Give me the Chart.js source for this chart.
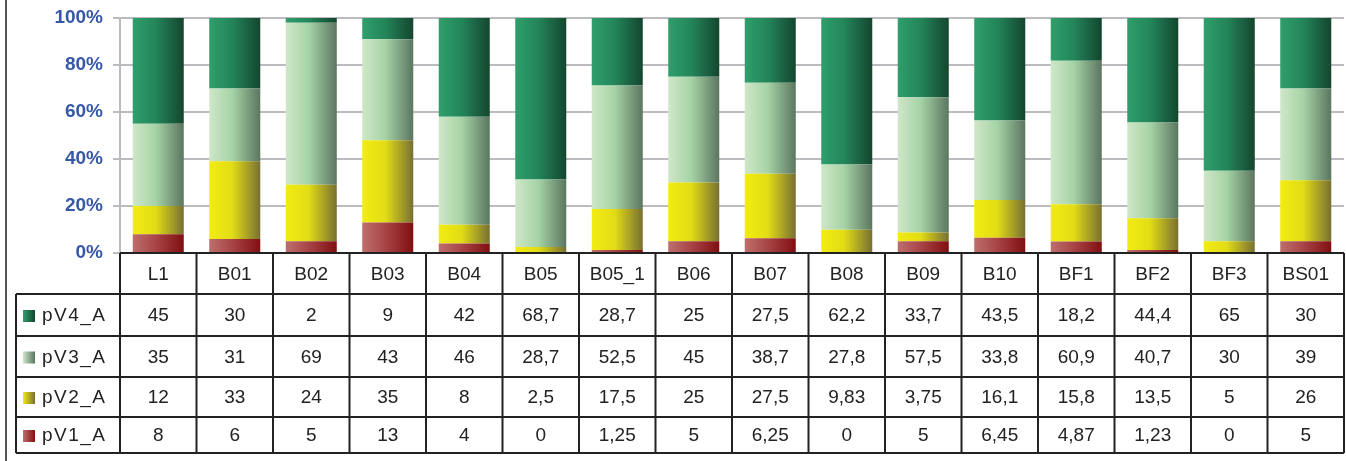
<!DOCTYPE html>
<html>
<head>
<meta charset="utf-8">
<script src="https://cdn.jsdelivr.net/npm/chart.js@4"></script>
<style>
	body { margin: 0; background: #fff; }
	#wrap { width: 1346px; height: 461px; position: relative; }
</style>
</head>
<body>
<div id="wrap"><canvas id="chart"></canvas></div>
<script>
const categories = ["L1", "B01", "B02", "B03", "B04", "B05", "B05_1", "B06", "B07", "B08", "B09", "B10", "BF1", "BF2", "BF3", "BS01"];
const pV1_A = [8, 6, 5, 13, 4, 0, 1.25, 5, 6.25, 0, 5, 6.45, 4.87, 1.23, 0, 5];
const pV2_A = [12, 33, 24, 35, 8, 2.5, 17.5, 25, 27.5, 9.83, 3.75, 16.1, 15.8, 13.5, 5, 26];
const pV3_A = [35, 31, 69, 43, 46, 28.7, 52.5, 45, 38.7, 27.8, 57.5, 33.8, 60.9, 40.7, 30, 39];
const pV4_A = [45, 30, 2, 9, 42, 68.7, 28.7, 25, 27.5, 62.2, 33.7, 43.5, 18.2, 44.4, 65, 30];
const yTicks = [0, 20, 40, 60, 80, 100];

// gradient stops left -> right for each series
const shades = {
	pV1_A: ["#bd6f6d", "#a84446", "#800f10"],
	pV2_A: ["#f2ec12", "#e2dc16", "#787032"],
	pV3_A: ["#cfe7c8", "#a6d3a6", "#5b7660"],
	pV4_A: ["#2f9f6b", "#23855a", "#14462e"],
};

const totals = categories.map((c, i) => pV1_A[i] + pV2_A[i] + pV3_A[i] + pV4_A[i]);
const pct = arr => arr.map((v, i) => v / totals[i] * 100);
const fmt = v => String(v).replace(".", ",");

const BAR_PCT = 0.667;
const FONT = "'Liberation Sans', Arial, sans-serif";

function barGradient(name) {
	return function (c) {
		const chart = c.chart;
		if (!chart.chartArea || c.dataIndex === undefined) return shades[name][1];
		const xs = chart.scales.x;
		const step = xs.width / categories.length;
		const cx = xs.getPixelForValue(c.dataIndex);
		const w = step * BAR_PCT;
		const g = chart.ctx.createLinearGradient(cx - w / 2, 0, cx + w / 2, 0);
		g.addColorStop(0, shades[name][0]);
		g.addColorStop(0.45, shades[name][1]);
		g.addColorStop(1, shades[name][2]);
		return g;
	};
}

const series = [
	{ name: "pV1_A", values: pV1_A },
	{ name: "pV2_A", values: pV2_A },
	{ name: "pV3_A", values: pV3_A },
	{ name: "pV4_A", values: pV4_A },
];

// data table under the plot, columns follow the x scale
const tablePlugin = {
	id: "dataTable",
	afterDraw(chart) {
		const ctx = chart.ctx;
		const xs = chart.scales.x;
		const area = chart.chartArea;
		const step = xs.width / categories.length;
		const left = area.left, right = area.right;
		const top = area.bottom;
		const rows = series.slice().reverse();
		// horizontal rules: header bottom, then each row
		const lines = [top + 41, top + 83, top + 124, top + 164, top + 200];
		const bottom = lines[lines.length - 1];
		const legendLeft = 16;

		ctx.save();
		// outer frame line on the left
		ctx.strokeStyle = "#555";
		ctx.lineWidth = 2;
		ctx.beginPath();
		ctx.moveTo(6, 0);
		ctx.lineTo(6, 461);
		ctx.stroke();

		ctx.strokeStyle = "#222";
		ctx.lineWidth = 2;
		ctx.beginPath();
		ctx.moveTo(left, top);
		ctx.lineTo(right, top);
		lines.forEach(y => {
			ctx.moveTo(legendLeft, y);
			ctx.lineTo(right, y);
		});
		for (let i = 0; i <= categories.length; i++) {
			const x = left + i * step;
			ctx.moveTo(x, top);
			ctx.lineTo(x, bottom);
		}
		ctx.moveTo(legendLeft, lines[0]);
		ctx.lineTo(legendLeft, bottom);
		ctx.stroke();

		ctx.fillStyle = "#222";
		ctx.font = "19px " + FONT;
		ctx.textAlign = "center";
		ctx.textBaseline = "middle";
		categories.forEach((c, i) => {
			ctx.fillText(c, xs.getPixelForValue(i), (top + lines[0]) / 2 + 1);
		});
		rows.forEach((s, r) => {
			const cy = (lines[r] + lines[r + 1]) / 2 + 1;
			s.values.forEach((v, i) => {
				ctx.fillText(fmt(v), xs.getPixelForValue(i), cy);
			});
			const g = ctx.createLinearGradient(23, 0, 35, 0);
			g.addColorStop(0, shades[s.name][0]);
			g.addColorStop(1, shades[s.name][2]);
			ctx.fillStyle = g;
			ctx.fillRect(23, cy - 6, 12, 12);
			ctx.fillStyle = "#222";
			ctx.textAlign = "left";
			ctx.letterSpacing = "1.5px";
			ctx.fillText(s.name, 42, cy);
			ctx.letterSpacing = "0px";
			ctx.textAlign = "center";
		});
		ctx.restore();
	}
};

new Chart(document.getElementById("chart"), {
	type: "bar",
	data: {
		labels: categories,
		datasets: series.map(s => ({
			label: s.name,
			data: pct(s.values),
			backgroundColor: barGradient(s.name),
			borderWidth: 0,
			barPercentage: BAR_PCT,
			categoryPercentage: 1,
		})),
	},
	options: {
		responsive: true,
		maintainAspectRatio: false,
		animation: false,
		layout: { padding: { top: 18, bottom: 208, left: 0, right: 2 } },
		plugins: { legend: { display: false }, tooltip: { enabled: false } },
		scales: {
			x: {
				stacked: true,
				afterFit: s => { s.height = 0; },
				ticks: { display: false },
				grid: { display: false },
				border: { display: false },
			},
			y: {
				stacked: true,
				min: 0,
				max: 100,
				afterFit: s => { s.width = 120; s.paddingTop = 0; s.paddingBottom = 0; },
				afterBuildTicks: s => { s.ticks = yTicks.map(v => ({ value: v })); },
				ticks: {
					padding: 10,
					color: "#3758a8",
					font: { family: FONT, size: 19, weight: "bold" },
					callback: v => v + "%",
				},
				grid: { color: "#bcbcc0", lineWidth: 2, tickLength: 7 },
				border: { color: "#bcbcc0", width: 2 },
			},
		},
	},
	plugins: [tablePlugin],
});
</script>
</body>
</html>
